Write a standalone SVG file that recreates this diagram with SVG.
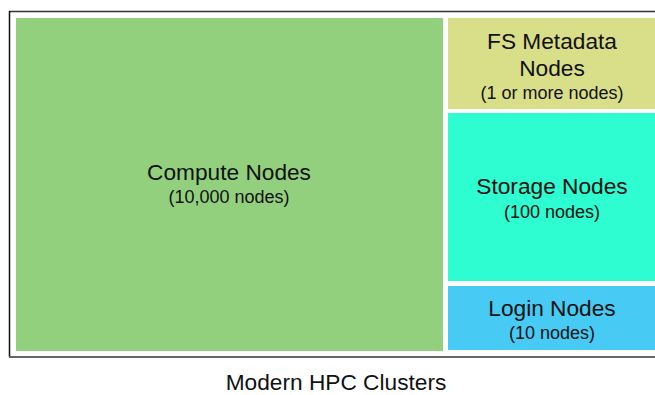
<svg xmlns="http://www.w3.org/2000/svg" width="655" height="395" viewBox="0 0 655 395">
<style>
.t{font-family:"Liberation Sans",Arial,sans-serif;fill:#111;text-anchor:middle}
.big{font-size:22.7px}
.small{font-size:18px}
</style>
<rect width="655" height="395" fill="#fff"/>
<g id="frame">
<line x1="9" y1="11.5" x2="660" y2="11.5" stroke="#333" stroke-width="1.5"/>
<line x1="9.5" y1="11" x2="9.5" y2="357" stroke="#111" stroke-width="1.5"/>
<line x1="9" y1="357" x2="660" y2="357" stroke="#666" stroke-width="2"/>
</g>
<g id="compute">
<rect x="16" y="18" width="427" height="333" fill="#93d07e"/>
<text class="t big" x="229" y="180">Compute Nodes</text>
<text class="t small" x="229" y="203">(10,000 nodes)</text>
</g>
<g id="fs-metadata">
<rect x="448" y="18" width="210" height="91" fill="#d9df88"/>
<text class="t big" x="552" y="49">FS Metadata</text>
<text class="t big" x="552" y="76">Nodes</text>
<text class="t small" x="552" y="99">(1 or more nodes)</text>
</g>
<g id="storage">
<rect x="448" y="113" width="210" height="168" fill="#2dfdd0"/>
<text class="t big" x="552" y="194">Storage Nodes</text>
<text class="t small" x="552" y="218">(100 nodes)</text>
</g>
<g id="login">
<rect x="448" y="286" width="210" height="64" fill="#47cbf4"/>
<text class="t big" x="552" y="316">Login Nodes</text>
<text class="t small" x="552" y="339">(10 nodes)</text>
</g>
<g id="connectors"/>
<text class="t big" x="336" y="390">Modern HPC Clusters</text>
</svg>
